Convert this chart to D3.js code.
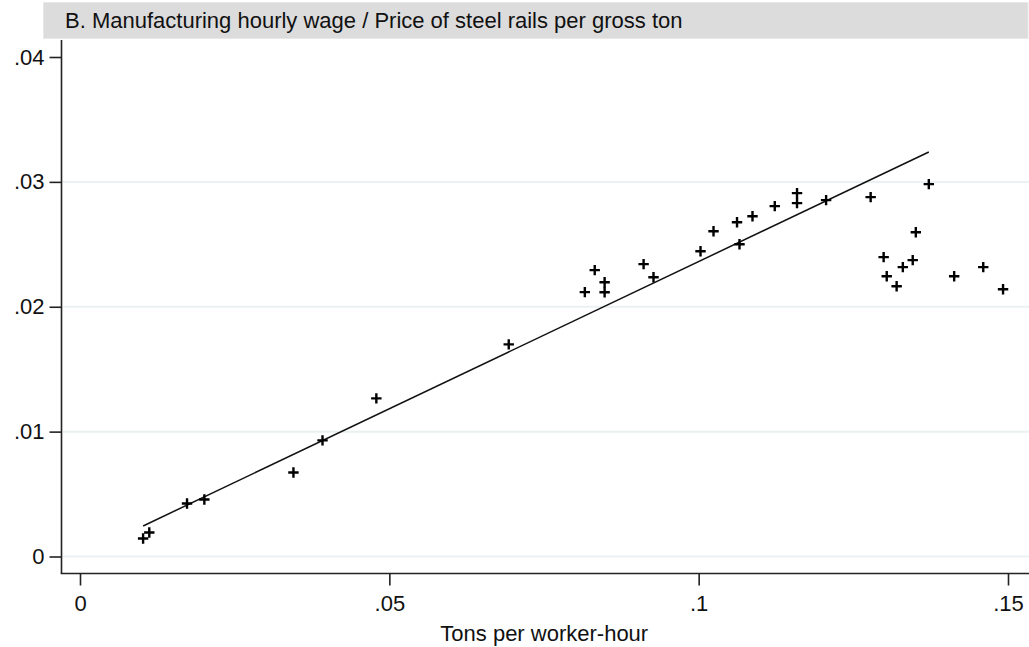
<!DOCTYPE html>
<html>
<head>
<meta charset="utf-8">
<script src="https://cdn.jsdelivr.net/npm/d3@7"></script>
<style>
  html, body { margin: 0; padding: 0; background: #ffffff; }
  svg { display: block; font-family: "Liberation Sans", Arial, Helvetica, sans-serif; }
</style>
</head>
<body>
<svg id="chart" width="1029" height="647"></svg>
<script>
// Tons of steel rails per worker-hour vs. real wage measured in rails
const tonsPerHour = [
  0.0102, 0.0112, 0.0173, 0.0201, 0.0345, 0.0392, 0.0479, 0.0693,
  0.0816, 0.0832, 0.0848, 0.0848, 0.0911, 0.0927, 0.1003, 0.1024,
  0.1062, 0.1066, 0.1087, 0.1123, 0.1159, 0.1159, 0.1206, 0.1278,
  0.1372, 0.1351, 0.1299, 0.1346, 0.1330, 0.1304, 0.1320, 0.1413,
  0.1460, 0.1492
];
const wageOverPrice = [
  0.00144, 0.00192, 0.00425, 0.00457, 0.00673, 0.00930, 0.01266, 0.01699,
  0.02117, 0.02293, 0.02196, 0.02116, 0.02341, 0.02236, 0.02445, 0.02605,
  0.02677, 0.02501, 0.02725, 0.02806, 0.02910, 0.02830, 0.02854, 0.02878,
  0.02982, 0.02597, 0.02397, 0.02373, 0.02317, 0.02244, 0.02164, 0.02244,
  0.02317, 0.02140
];

// Fitted line: intercept, slope and the x span it covers
const fitIntercept = 0.00004;
const fitSlope = 0.2358;
const fitRange = [0.0102, 0.1372];

const xTicks = [0, 0.05, 0.1, 0.15];
const xTickLabels = ["0", ".05", ".1", ".15"];
const yTicks = [0, 0.01, 0.02, 0.03, 0.04];
const yTickLabels = ["0", ".01", ".02", ".03", ".04"];
const gridValues = [0, 0.01, 0.02, 0.03];

const titleText = "B. Manufacturing hourly wage / Price of steel rails per gross ton";
const xTitle = "Tons per worker-hour";

const svg = d3.select("#chart");
const W = 1029, H = 647;
const FONT = 22;

// Plot frame
const frame = { left: 61.5, right: 1029, top: 40, bottom: 573.5 };

const x = d3.scaleLinear().domain([0, 0.15]).range([80, 1008]);
const y = d3.scaleLinear().domain([0, 0.04]).range([556.5, 57]);

// Title band
svg.append("rect")
  .attr("x", 43.5).attr("y", 2.5)
  .attr("width", W - 44.5).attr("height", 36)
  .attr("fill", "#dcdcdc")
  .attr("stroke", "#e8e8e8").attr("stroke-width", 1);

svg.append("text")
  .attr("x", 65).attr("y", 28)
  .attr("font-size", FONT)
  .attr("fill", "#111")
  .text(titleText);

// Horizontal grid
svg.append("g")
  .selectAll("line")
  .data(gridValues)
  .join("line")
  .attr("x1", frame.left + 1).attr("x2", frame.right)
  .attr("y1", d => y(d)).attr("y2", d => y(d))
  .attr("stroke", "#eaf1f3").attr("stroke-width", 2);

// Y axis
const yAxis = d3.axisLeft(y)
  .tickValues(yTicks)
  .tickFormat((d, i) => yTickLabels[i])
  .tickSize(12)
  .tickPadding(5);

const gy = svg.append("g")
  .attr("transform", `translate(${frame.left},0)`)
  .call(yAxis);
gy.select(".domain").remove();
gy.selectAll(".tick line").attr("stroke", "#222").attr("stroke-width", 1.6);
gy.selectAll(".tick text").attr("font-size", FONT).attr("fill", "#111")
  .attr("font-family", "'Liberation Sans', Arial, sans-serif");
gy.append("line")
  .attr("x1", 0).attr("x2", 0)
  .attr("y1", frame.top).attr("y2", frame.bottom)
  .attr("stroke", "#222").attr("stroke-width", 1.6);

// X axis
const xAxis = d3.axisBottom(x)
  .tickValues(xTicks)
  .tickFormat((d, i) => xTickLabels[i])
  .tickSize(12)
  .tickPadding(10);

const gx = svg.append("g")
  .attr("transform", `translate(0,${frame.bottom})`)
  .call(xAxis);
gx.select(".domain").remove();
gx.selectAll(".tick line").attr("stroke", "#222").attr("stroke-width", 1.6);
gx.selectAll(".tick text").attr("font-size", FONT).attr("fill", "#111")
  .attr("font-family", "'Liberation Sans', Arial, sans-serif");
gx.append("line")
  .attr("x1", frame.left - 0.8).attr("x2", frame.right)
  .attr("y1", 0).attr("y2", 0)
  .attr("stroke", "#222").attr("stroke-width", 1.6);

svg.append("text")
  .attr("x", (frame.left + frame.right) / 2 - 1).attr("y", 641)
  .attr("text-anchor", "middle")
  .attr("font-size", FONT)
  .attr("fill", "#111")
  .text(xTitle);

// Fitted line
const fitLine = d3.line()
  .x(d => x(d))
  .y(d => y(fitIntercept + fitSlope * d));
svg.append("path")
  .attr("d", fitLine(fitRange))
  .attr("fill", "none")
  .attr("stroke", "#111")
  .attr("stroke-width", 1.5);

// Observations as plus markers
const pts = tonsPerHour.map((v, i) => [v, wageOverPrice[i]]);
const half = 5.2;
svg.append("g")
  .selectAll("path")
  .data(pts)
  .join("path")
  .attr("d", d => {
    const cx = x(d[0]), cy = y(d[1]);
    return `M${cx - half},${cy}H${cx + half}M${cx},${cy - half}V${cy + half}`;
  })
  .attr("stroke", "#000")
  .attr("stroke-width", 2.4)
  .attr("fill", "none");
</script>
</body>
</html>
